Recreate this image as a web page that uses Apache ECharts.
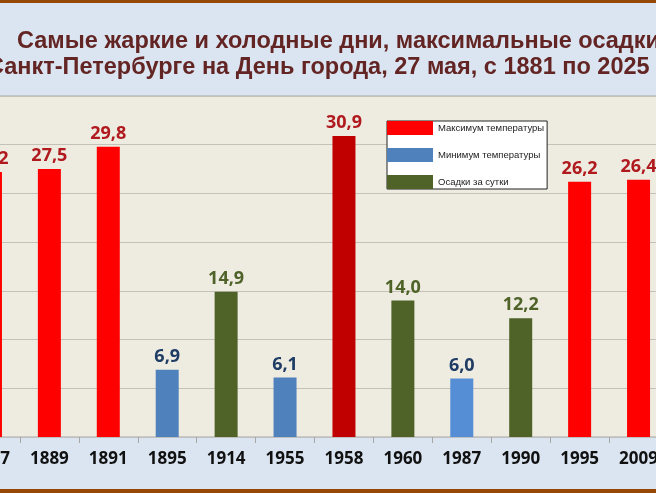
<!DOCTYPE html>
<html>
<head>
<meta charset="utf-8">
<title>День города, 27 мая</title>
<script src="https://cdn.jsdelivr.net/npm/echarts@6/dist/echarts.min.js"></script>
<style>
  html, body { margin: 0; padding: 0; overflow: hidden; }
  body { width: 656px; height: 493px; position: relative; }
  /* график шире окна: слева и справа обрезан, как на слайде */
  #chart { position: absolute; left: -39px; top: 0; width: 707px; height: 493px; }
</style>
</head>
<body>
<div id="chart"></div>
<script>
// годы (категории)
const years = ['1887', '1889', '1891', '1895', '1914', '1955', '1958', '1960', '1987', '1990', '1995', '2009']
// значения, null — нет столбца
const maxTemp = [27.2, 27.5, 29.8, null, null, null, 30.9, null, null, null, 26.2, 26.4]
const minTemp = [null, null, null, 6.9, null, 6.1, null, null, 6.0, null, null, null]
const rain = [null, null, null, null, 14.9, null, null, 14.0, null, 12.2, null, null]
const seriesNames = ['Максимум температуры', 'Минимум температуры', 'Осадки за сутки']

const chart = echarts.init(document.getElementById('chart'))

const fmt = v => v.toFixed(1).replace('.', ',')

// рекорды выделены другим оттенком
const hottest = Math.max(...maxTemp.filter(v => v != null))
const coldest = Math.min(...minTemp.filter(v => v != null))

function toData(arr, record, recordColor) {
  return arr.map(v => {
    if (v == null) return '-'
    if (v === record) return { value: v, itemStyle: { color: recordColor } }
    return v
  })
}

function barSeries(name, data, color, labelColor) {
  return {
    name,
    type: 'bar',
    data,
    barWidth: 23,
    barGap: '-100%',
    itemStyle: { color },
    label: {
      show: true,
      position: 'top',
      distance: 4,
      formatter: p => fmt(p.value),
      color: labelColor,
      fontFamily: 'Open Sans',
      fontWeight: 'bold',
      fontSize: 18
    }
  }
}

const titleStyle = { fontFamily: 'Liberation Sans', fontWeight: 'bold', fontSize: 23.5, color: '#632523' }

const option = {
  backgroundColor: '#dbe5f1',
  animation: false,
  title: [
    {
      text: 'Самые жаркие и холодные дни, максимальные осадки в',
      left: 51,
      top: 25,
      textStyle: titleStyle
    },
    {
      text: 'Санкт-Петербурге на День города, 27 мая, с 1881 по 2025 гг.',
      left: 21,
      top: 51,
      textStyle: titleStyle
    }
  ],
  graphic: [
    { type: 'rect', left: 0, top: 0, shape: { width: 707, height: 3 }, style: { fill: '#974806' }, z: 10 },
    { type: 'rect', left: 0, top: 489, shape: { width: 707, height: 4 }, style: { fill: '#974806' }, z: 10 }
  ],
  legend: {
    orient: 'vertical',
    left: 426,
    top: 121,
    data: seriesNames,
    icon: 'rect',
    itemWidth: 46,
    itemHeight: 14,
    itemGap: 13,
    padding: [0, 3, 0, 0],
    backgroundColor: '#ffffff',
    borderColor: '#222',
    borderWidth: 1,
    textStyle: { fontFamily: 'Liberation Sans', fontSize: 9.5, color: '#222' },
    selectedMode: false
  },
  grid: {
    left: 0,
    right: 0,
    top: 96,
    bottom: 56,
    show: true,
    backgroundColor: '#eeece1',
    borderColor: '#a6a6a6',
    borderWidth: 1
  },
  xAxis: {
    type: 'category',
    data: years,
    axisLine: { lineStyle: { color: '#bfbfbf' } },
    axisTick: { show: true, length: 6, lineStyle: { color: '#a6a6a6' } },
    axisLabel: {
      margin: 14,
      color: '#111',
      fontFamily: 'Open Sans',
      fontWeight: 'bold',
      fontSize: 17
    }
  },
  yAxis: {
    type: 'value',
    min: 0,
    max: 35,
    interval: 5,
    axisLabel: { show: false },
    axisLine: { show: false },
    axisTick: { show: false },
    splitLine: { lineStyle: { color: '#c4c1b8' } }
  },
  series: [
    barSeries(seriesNames[0], toData(maxTemp, hottest, '#c00000'), '#ff0000', '#b0191e'),
    barSeries(seriesNames[1], toData(minTemp, coldest, '#558ed5'), '#4f81bd', '#1f3c64'),
    barSeries(seriesNames[2], toData(rain, null, null), '#4f6228', '#4f6228')
  ]
}

chart.setOption(option)
</script>
</body>
</html>
